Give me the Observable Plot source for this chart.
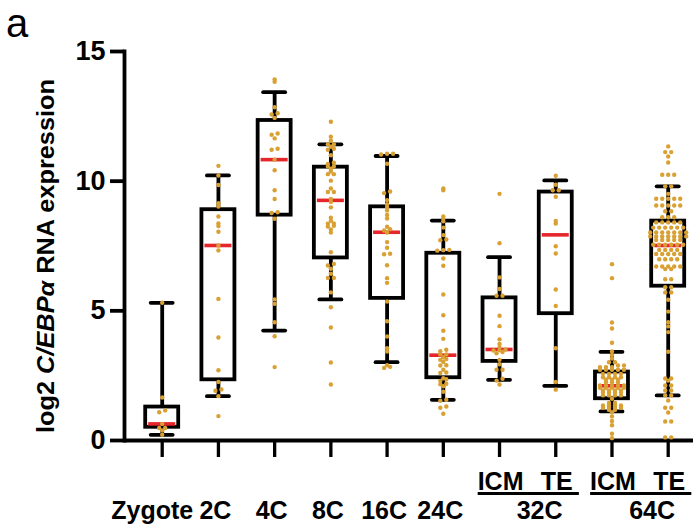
<!DOCTYPE html>
<html><head><meta charset="utf-8">
<script src="https://cdn.jsdelivr.net/npm/d3@7"></script>
<script src="https://cdn.jsdelivr.net/npm/@observablehq/plot@0.6"></script>
<style>body{margin:0;background:#fff} #chart{width:693px;height:526px}</style>
</head><body><div id="chart"></div>
<script>
// ---- data ----
const groups = ["Zygote", "2C", "4C", "8C", "16C", "24C", "32C ICM", "32C TE", "64C ICM", "64C TE"];
const stageLabels = ["Zygote", "2C", "4C", "8C", "16C", "24C"];
const lineageLabels = ["ICM", "TE", "ICM", "TE"];
const pairLabels = ["32C", "64C"];
const yTicks = [0, 5, 10, 15];

const whiskerLow  = [0.22, 1.71, 4.24, 5.44, 3.02, 1.57, 2.34, 2.11, 1.12, 1.74];
const quart1      = [0.51, 2.34, 8.69, 7.04, 5.48, 2.42, 3.05, 4.89, 1.61, 5.95];
const medians     = [0.64, 7.52, 10.83, 9.26, 8.03, 3.29, 3.51, 7.93, 2.11, 7.52];
const quart3      = [1.29, 8.90, 12.34, 10.54, 9.01, 7.22, 5.50, 9.58, 2.64, 8.46];
const whiskerHigh = [5.31, 10.22, 13.43, 11.42, 10.97, 8.48, 7.07, 10.03, 3.42, 9.80];

const zygote = [5.31, 1.66, 1.16, 1.09, 0.64, 0.48, 0.48, 0.39, 0.22];
const c2 = [10.59, 10.22, 9.85, 9.15, 9.02, 8.64, 8.37, 8.27, 8.05, 7.52, 7.33, 5.46, 3.97, 2.71, 2.26, 1.97, 1.92, 1.71, 0.94];
const c4 = [13.92, 13.83, 12.85, 12.62, 12.57, 12.44, 11.84, 11.79, 11.65, 11.25, 11.21, 10.83, 10.42, 9.65, 9.31, 8.80, 8.77, 8.55, 5.44, 5.27, 4.56, 4.02, 2.83];
const c8 = [12.29, 11.71, 11.56, 11.42, 11.42, 11.33, 11.25, 11.21, 11.00, 10.71, 10.66, 10.57, 10.57, 10.48, 10.37, 10.27, 10.27, 10.02, 9.72, 9.58, 9.58, 9.31, 9.20, 8.99, 8.59, 8.47, 8.37, 8.36, 8.28, 8.25, 8.14, 8.02, 7.26, 6.81, 6.75, 6.62, 6.43, 6.27, 6.27, 5.71, 5.14, 4.36, 3.01, 2.16];
const c16 = [11.06, 11.06, 11.03, 10.67, 9.60, 9.54, 9.27, 9.11, 9.00, 8.87, 8.70, 8.56, 8.24, 8.15, 8.10, 8.02, 7.65, 7.43, 7.20, 7.18, 6.76, 6.26, 6.08, 5.36, 4.60, 4.01, 3.56, 3.43, 2.90, 2.84, 2.80];
const c24 = [9.72, 9.65, 8.64, 8.55, 8.45, 8.21, 7.92, 7.75, 7.72, 7.35, 7.34, 7.32, 7.02, 6.74, 5.63, 4.83, 4.23, 3.92, 3.50, 3.44, 3.32, 3.32, 3.21, 3.14, 3.11, 3.03, 2.90, 2.89, 2.73, 2.62, 2.60, 2.40, 2.36, 2.30, 2.19, 2.17, 2.09, 1.88, 1.57, 1.53, 1.31, 1.26, 1.03];
const icm32 = [9.51, 7.61, 6.29, 5.84, 5.58, 5.58, 4.81, 4.41, 3.90, 3.72, 3.59, 3.51, 3.48, 3.47, 3.41, 3.36, 3.11, 2.94, 2.73, 2.73, 2.38, 2.31, 2.16];
const te32 = [10.21, 9.86, 9.65, 9.65, 9.40, 8.47, 8.37, 7.49, 7.21, 5.82, 5.19, 3.56, 2.26, 1.96];
const icm64 = [6.80, 6.26, 4.55, 4.32, 3.77, 3.43, 3.30, 3.16, 3.02, 3.02,
  2.89, 2.89, 2.83, 2.83, 2.83, 2.73, 2.73, 2.73, 2.73, 2.73,
  2.57, 2.57, 2.57, 2.57, 2.44, 2.44, 2.44, 2.44, 2.34, 2.34, 2.34,
  2.25, 2.25, 2.25, 2.12, 2.12, 2.12, 2.12, 2.12, 2.03, 2.03, 2.03, 2.03, 2.03,
  1.93, 1.93, 1.93, 1.93, 1.84, 1.84, 1.84, 1.84, 1.74, 1.74, 1.74, 1.74, 1.61,
  1.45, 1.45, 1.35, 1.35, 1.35, 1.35, 1.26, 1.26, 1.26, 1.26, 1.18, 1.18, 1.09,
  0.93, 0.75, 0.59, 0.26, 0.09];
const te64 = [11.34, 11.12, 11.12, 10.95, 10.72, 10.25, 10.25, 10.25, 9.80, 9.80, 9.51,
  9.32, 9.32, 9.32, 9.32, 9.32, 9.06, 9.06, 9.06, 9.06, 9.06, 8.84, 8.84,
  8.61, 8.61, 8.61, 8.41, 8.41, 8.41, 8.41, 8.41, 8.21, 8.21, 8.21, 8.21, 8.21, 8.21,
  8.02, 8.02, 8.02, 8.02, 8.02, 8.02, 8.02, 7.87, 7.87, 7.87, 7.87, 7.87, 7.87, 7.87,
  7.73, 7.73, 7.73, 7.73, 7.73, 7.55, 7.55, 7.55, 7.55, 7.55, 7.55,
  7.35, 7.35, 7.35, 7.35, 7.19, 7.19, 7.19, 7.19, 7.19, 6.99, 6.99, 6.99, 6.99,
  6.71, 6.71, 6.71, 6.71, 6.71, 6.61, 6.61, 6.22, 6.22, 5.91, 5.91, 5.71, 5.71,
  5.43, 4.97, 4.56, 4.40, 4.18, 3.42, 2.39, 2.39, 2.31, 2.12, 2.12, 1.93, 1.93,
  1.74, 1.74, 1.54, 1.26, 1.26, 1.08, 0.73, 0.73, 0.12, 0.12];
const groupValues = [zygote, c2, c4, c8, c16, c24, icm32, te32, icm64, te64];

// ---- layout / style ----
const n = groups.length;
const xRange = [161.7, 667.7];
const stepPx = (xRange[1] - xRange[0]) / (n - 1);
const boxHalf = 16.5 / stepPx, capHalf = 11 / stepPx, medHalf = 13.5 / stepPx;
const dotSpacing = 6, rowThreshold = 0.07;
const gold = "#D9A033", red = "#E5262B";
const lw = 3.8;

const stats = groups.map((g, i) => ({i, lo: whiskerLow[i], q1: quart1[i], med: medians[i], q3: quart3[i], hi: whiskerHigh[i]}));

// deterministic row layout (GraphPad-style scatter): points of similar value share a row, spread evenly
function scatterRows(vals, i) {
  const sorted = vals.slice().sort((a, b) => a - b);
  const out = [];
  let row = [];
  const flush = () => {
    row.forEach((v, k) => out.push({i, v, x: i + ((k - (row.length - 1) / 2) * dotSpacing) / stepPx}));
    row = [];
  };
  for (const v of sorted) {
    if (row.length && v - row[0] >= rowThreshold) flush();
    row.push(v);
  }
  flush();
  return out;
}
const points = groupValues.flatMap((vals, i) => scatterRows(vals, i));

const firstStage = [{label: stageLabels[0], i: 0}];
const stageData = stageLabels.slice(1).map((label, k) => ({label, i: k + 1}));
const lineageData = lineageLabels.map((label, k) => ({label, i: 6 + k}));
const pairData = pairLabels.map((label, k) => ({label, i: 6.5 + 2 * k, a: 6 + 2 * k, b: 7 + 2 * k}));

const font = "'Liberation Sans', Arial, Helvetica, sans-serif";
const lblSize = 25;

const chart = Plot.plot({
  width: 693, height: 526,
  marginTop: 51, marginBottom: 86, marginLeft: 124, marginRight: 0,
  style: {fontFamily: font, background: "white", color: "black", overflow: "visible"},
  x: {type: "linear", domain: [0, n - 1], range: xRange},
  y: {domain: [0, 15]},
  marks: [
    Plot.axisY({ticks: yTicks, tickSize: 14, tickPadding: 5, fontSize: 27, fontWeight: "bold", strokeWidth: lw, label: null}),
    Plot.axisX({ticks: d3.range(n), tickSize: 17, tickFormat: () => "", strokeWidth: 3.3, label: null}),
    Plot.frame({anchor: "left", strokeWidth: lw}),
    Plot.ruleY([0], {strokeWidth: lw}),
    Plot.ruleX(stats, {x: "i", y1: "lo", y2: "hi", strokeWidth: lw}),
    Plot.rect(stats, {x1: d => d.i - boxHalf, x2: d => d.i + boxHalf, y1: "q1", y2: "q3", fill: "white", stroke: "black", strokeWidth: lw}),
    Plot.ruleY(stats, {y: "lo", x1: d => d.i - capHalf, x2: d => d.i + capHalf, strokeWidth: lw, strokeLinecap: "round"}),
    Plot.ruleY(stats, {y: "hi", x1: d => d.i - capHalf, x2: d => d.i + capHalf, strokeWidth: lw, strokeLinecap: "round"}),
    Plot.ruleY(stats, {y: "med", x1: d => d.i - medHalf, x2: d => d.i + medHalf, stroke: red, strokeWidth: 3.6}),
    Plot.dot(points, {x: "x", y: "v", r: 2.2, fill: gold, stroke: "none"}),
    Plot.text(firstStage, {x: "i", text: "label", frameAnchor: "bottom", dy: 70.8, dx: -10, fontSize: lblSize, fontWeight: "bold", lineAnchor: "middle"}),
    Plot.text(stageData, {x: "i", text: "label", frameAnchor: "bottom", dy: 70.8, dx: -3, fontSize: lblSize, fontWeight: "bold", lineAnchor: "middle"}),
    Plot.text(lineageData, {x: "i", text: "label", frameAnchor: "bottom", dy: 41.5, dx: 1, fontSize: lblSize, fontWeight: "bold", lineAnchor: "middle"}),
    Plot.text(pairData, {x: "i", text: "label", frameAnchor: "bottom", dy: 70.8, dx: 12, fontSize: lblSize, fontWeight: "bold", lineAnchor: "middle"}),
    Plot.ruleY(pairData, {y: () => 0, x1: d => d.a - 0.38, x2: d => d.b + 0.42, dy: 53, strokeWidth: 3})
  ]
});
document.getElementById("chart").appendChild(chart);

const svg = d3.select(chart);
const title = svg.append("text")
  .attr("transform", "translate(54,256) rotate(-90)")
  .attr("text-anchor", "middle")
  .attr("font-family", font)
  .attr("font-weight", "bold")
  .attr("font-size", 23)
  .attr("textLength", 354)
  .attr("lengthAdjust", "spacingAndGlyphs")
  .attr("fill", "black");
title.append("tspan").text("log2 ");
title.append("tspan").attr("font-style", "italic").text("C/EBPα");
title.append("tspan").text(" RNA expression");

svg.append("text")
  .attr("x", 6).attr("y", 37)
  .attr("text-anchor", "start")
  .attr("font-family", font)
  .attr("font-size", 40)
  .attr("fill", "black")
  .text("a");
</script>
</body></html>
